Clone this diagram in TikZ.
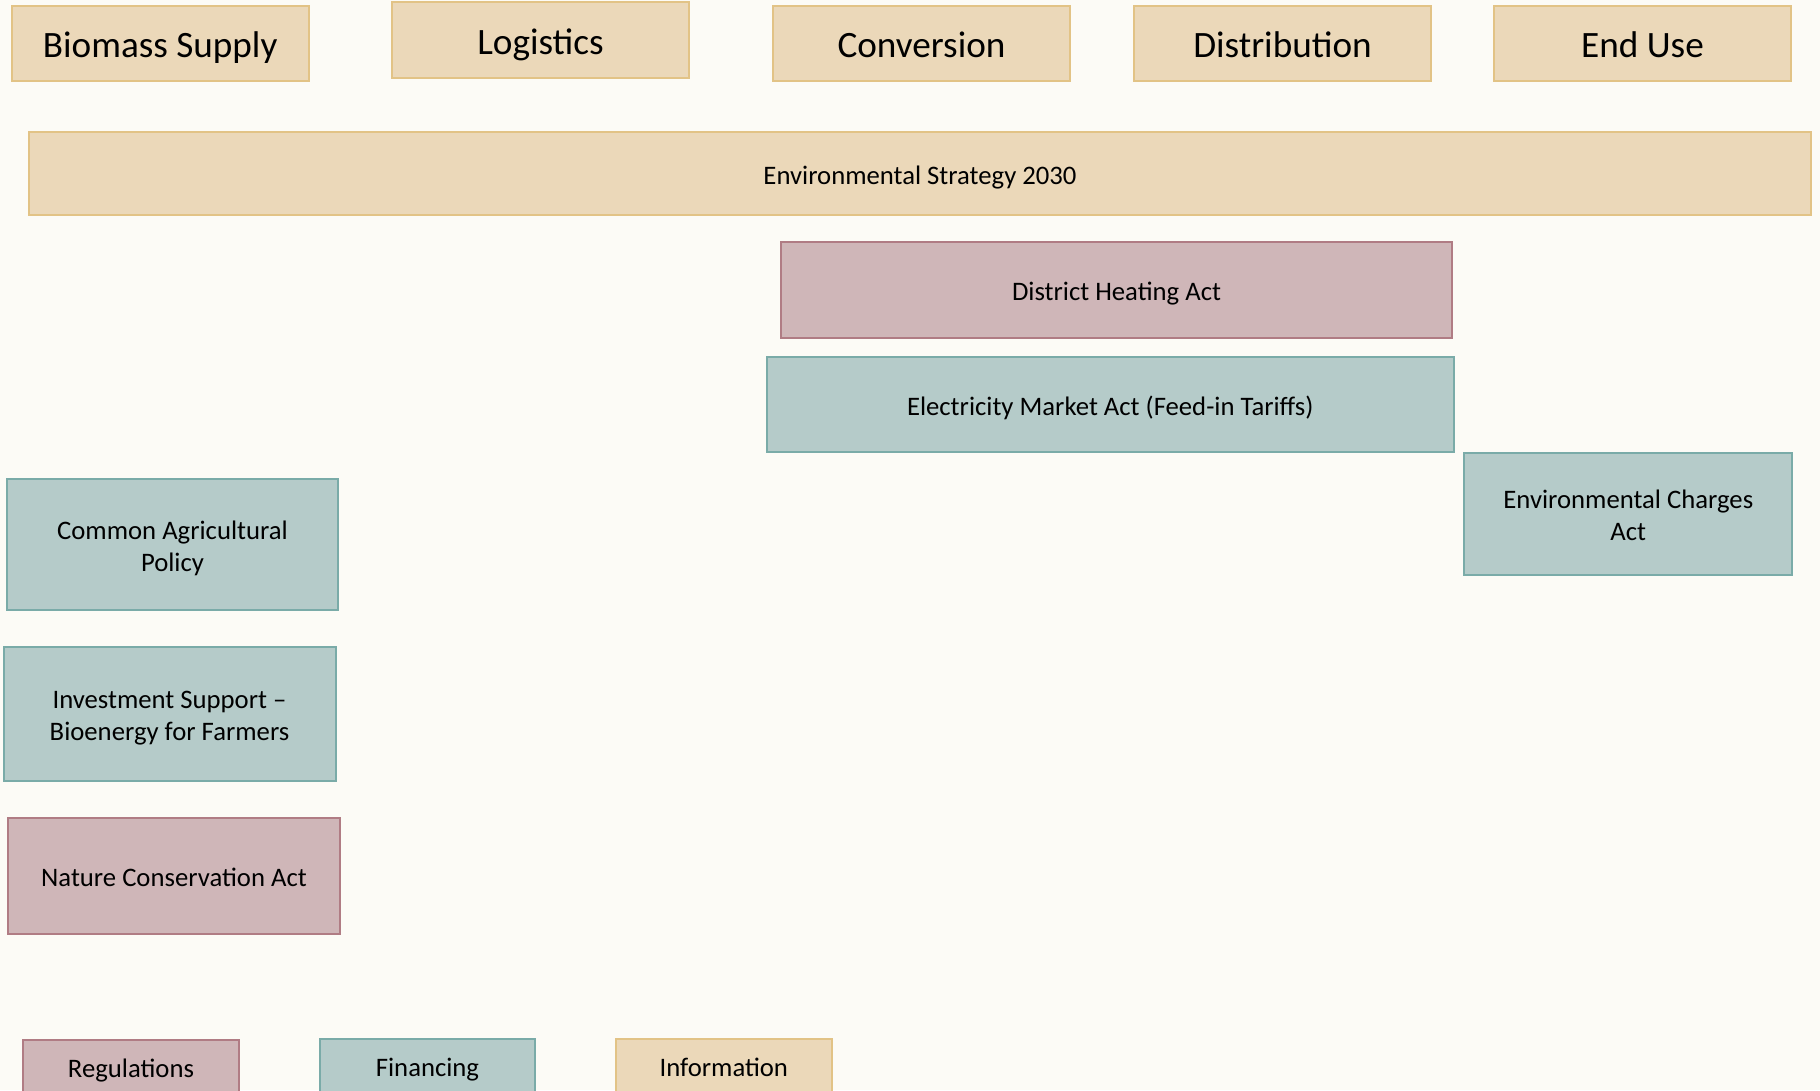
\documentclass[tikz,border=0pt]{standalone}
\usepackage{fontspec}
\setmainfont{Carlito}
\definecolor{bgc}{HTML}{FCFBF6}
\definecolor{tanfill}{HTML}{EBD8B9}
\definecolor{tanline}{HTML}{E2C386}
\definecolor{redfill}{HTML}{CFB6B8}
\definecolor{redline}{HTML}{B07C84}
\definecolor{tealfill}{HTML}{B5CBC9}
\definecolor{tealline}{HTML}{7AABA8}
\tikzset{
  basebox/.style={rectangle, line width=2pt, inner sep=0pt, align=center, font=\fontsize{26.7}{31.7}\selectfont, text=black},
  oneline/.style={text height=21.5pt, text depth=0pt},
  twoline/.style={text height=53.2pt, text depth=0pt},
  tanbox/.style={basebox, fill=tanfill, draw=tanline},
  redbox/.style={basebox, fill=redfill, draw=redline},
  tealbox/.style={basebox, fill=tealfill, draw=tealline},
  headbox/.style={tanbox, minimum width=297pt, minimum height=75.5pt, font=\fontsize{37.2}{42}\selectfont, text height=28pt, text depth=0pt},
  legtext/.style={inner sep=0pt, font=\fontsize{26.7}{31.7}\selectfont, text=black, text height=21.5pt, text depth=0pt}
}
\begin{document}
\begin{tikzpicture}[x=1pt,y=-1pt]
\fill[bgc] (0,0) rectangle (1820,1090);
\useasboundingbox (0,0) rectangle (1820,1090);
% headers
\node[headbox] (bs) at (160.2,43.3) {Biomass Supply};
\node[headbox] (log) at (540.5,40) {Logistics};
\node[headbox] (conv) at (921.5,43.3) {Conversion};
\node[headbox] (dist) at (1282.5,43.3) {Distribution};
\node[headbox] (end) at (1642.5,43.3) {End Use};
% strategy
\node[tanbox, oneline, minimum width=1782pt, minimum height=83pt] (env) at (920,173.5) {Environmental Strategy 2030};
\node[redbox, oneline, minimum width=671pt, minimum height=96.5pt] (dh) at (1116.5,289.75) {District Heating Act};
\node[tealbox, oneline, minimum width=687.5pt, minimum height=94.7pt] (em) at (1110.25,404.6) {Electricity Market Act (Feed-in Tariffs)};
\node[tealbox, twoline, minimum width=328pt, minimum height=122.3pt] (ec) at (1628.3,513.85) {Environmental Charges\\Act};
\node[tealbox, twoline, minimum width=331.6pt, minimum height=130.7pt] (cap) at (172.5,544.65) {Common Agricultural\\Policy};
\node[tealbox, twoline, minimum width=332pt, minimum height=134.5pt] (inv) at (169.5,713.75) {Investment Support --\\Bioenergy for Farmers};
\node[redbox, oneline, minimum width=332pt, minimum height=116pt] (nat) at (174,875.5) {Nature Conservation Act};
% legend
\node[redbox, minimum width=215.4pt, minimum height=80pt, anchor=north] (reg) at (131,1039.3) {};
\node[legtext] (regt) at (131,1066.5) {Regulations};
\node[tealbox, minimum width=215pt, minimum height=80pt, anchor=north] (fin) at (427.5,1038.3) {};
\node[legtext] (fint) at (427.5,1065.5) {Financing};
\node[tanbox, minimum width=215.7pt, minimum height=80pt, anchor=north] (inf) at (723.8,1038.3) {};
\node[legtext] (inft) at (723.8,1065.5) {Information};
\end{tikzpicture}
\end{document}
